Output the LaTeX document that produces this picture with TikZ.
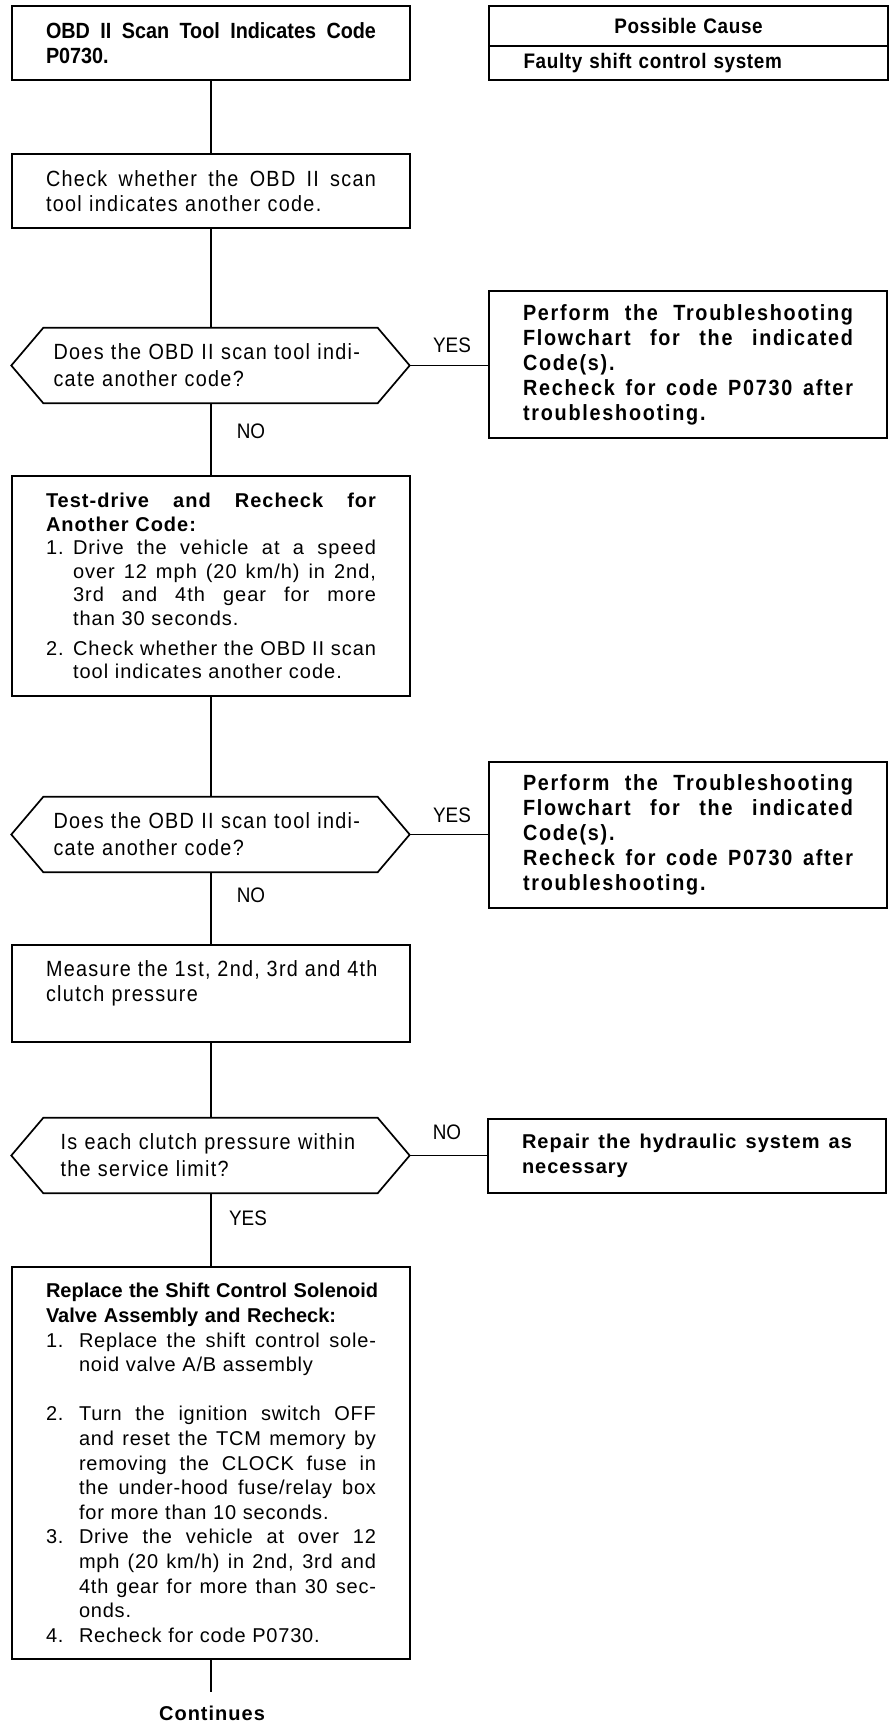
\documentclass[tikz,border=0pt]{standalone}
\usepackage{fontspec}
\setmainfont{Liberation Sans}
\newfontfamily\fA[FakeStretch=0.9]{Liberation Sans}
\newfontfamily\fAs[FakeStretch=0.9,LetterSpace=6]{Liberation Sans}
\newfontfamily\fAb[FakeStretch=0.9,LetterSpace=8]{Liberation Sans}
\newfontfamily\fPC[FakeStretch=0.9,LetterSpace=3]{Liberation Sans}
\newfontfamily\fB[LetterSpace=5]{Liberation Sans}
\newfontfamily\fBb[LetterSpace=4]{Liberation Sans}
\newfontfamily\fC{Liberation Sans}
\newlength\indw
\newlength\tw
\setlength\tw{330pt}
\newcommand\jsp{\spaceskip=\fontdimen2\font plus 1fil\relax}
\newcommand\myJ[1]{\noindent\hbox to \tw{\jsp #1}\par}
\newcommand\myL[1]{\noindent\hbox{#1}\par}
\newcommand\myI[2]{\noindent\hbox to \tw{\hbox to \indw{#1\hss}\jsp #2}\par}
\newcommand\myIL[2]{\noindent\hbox{\hbox to \indw{#1\hss}#2}\par}
\newcommand\myC[1]{\noindent\hbox to \tw{\hskip\indw\jsp #1}\par}
\newcommand\myCL[1]{\noindent\hbox{\hskip\indw #1}\par}
\tikzset{
  box/.style={draw, line width=2.1pt, inner sep=0pt, minimum width=398pt, text width=330pt, align=left},
  hexn/.style={inner sep=0pt, minimum width=398pt, minimum height=75pt, text width=314pt, align=left},
  hexline/.style={line width=1.7pt, line join=miter},
  conn/.style={line width=1.5pt},
  lab/.style={inner sep=0pt, font=\fA\fontsize{21}{24}\selectfont}
}
\begin{document}
\begin{tikzpicture}[x=1pt,y=-1pt]
\useasboundingbox (0,0) rectangle (896,1728);
\fill[white] (0,0) rectangle (896,1728);

% top row
\node[box, minimum height=74pt, font=\fA\fontsize{22}{24.5}\selectfont\bfseries] (b1) at (211,43)
  {\myJ{OBD II Scan Tool Indicates Code}\myL{P0730.}};
\node[box, minimum width=399pt, minimum height=40pt, align=center, font=\fPC\fontsize{21}{24}\selectfont\bfseries] (pc1) at (688.5,26) {Possible Cause};
\node[box, minimum width=399pt, minimum height=34pt, font=\fPC\fontsize{21}{24}\selectfont\bfseries] (pc2) at (688.5,63) {\myL{Faulty shift control system}};

\node[box, minimum height=74pt, font=\fAs\fontsize{22}{25.5}\selectfont] (b2) at (211,191)
  {\myJ{Check whether the OBD II scan}\myL{tool indicates another code.}};

% decision 1
\node[hexn, font=\fAs\fontsize{22}{27}\selectfont] (h1) at (210.5,365.5)
  {\myL{Does the OBD II scan tool indi-}\myL{cate another code?}};
\node[box, minimum height=147pt, font=\fAb\fontsize{22}{25}\selectfont\bfseries] (p1) at (688,364.5)
  {\myJ{Perform the Troubleshooting}\myJ{Flowchart for the indicated}\myL{Code(s).}\myJ{Recheck for code P0730 after}\myL{troubleshooting.}};
\node[lab] (yes1) at (452,345) {YES};
\node[lab] (no1) at (251,431) {NO};

% box 3
\node[box, minimum height=220pt, font=\fB\fontsize{20}{23.6}\selectfont] (b3) at (211,586)
  {\setlength\indw{27pt}%
   \myJ{\bfseries Test-drive and Recheck for}%
   \myL{\bfseries Another Code:}%
   \myI{1.}{Drive the vehicle at a speed}%
   \myC{over 12 mph (20 km/h) in 2nd,}%
   \myC{3rd and 4th gear for more}%
   \myCL{than 30 seconds.}%
   \vspace{6pt}%
   \myI{2.}{Check whether the OBD II scan}%
   \myCL{tool indicates another code.}};

% decision 2
\node[hexn, font=\fAs\fontsize{22}{27}\selectfont] (h2) at (210.5,834.5)
  {\myL{Does the OBD II scan tool indi-}\myL{cate another code?}};
\node[box, minimum height=146pt, font=\fAb\fontsize{22}{25}\selectfont\bfseries] (p2) at (688,835)
  {\myJ{Perform the Troubleshooting}\myJ{Flowchart for the indicated}\myL{Code(s).}\myJ{Recheck for code P0730 after}\myL{troubleshooting.}};
\node[lab] (yes2) at (452,815) {YES};
\node[lab] (no2) at (251,895) {NO};

% box 4
\node[box, minimum height=97pt, font=\fAs\fontsize{22}{25}\selectfont] (b4) at (211,993.5)
  {\myJ{Measure the 1st, 2nd, 3rd and 4th}\myL{clutch pressure}\myL{}};

% decision 3
\node[hexn, font=\fAs\fontsize{22}{27}\selectfont] (h3) at (210.5,1155.5)
  {\myL{\hspace*{7pt}Is each clutch pressure within}\myL{\hspace*{7pt}the service limit?}};
\node[box, minimum height=74pt, font=\fB\fontsize{20}{25}\selectfont\bfseries] (r1) at (687,1156)
  {\myJ{Repair the hydraulic system as}\myL{necessary}};
\node[lab] (no3) at (447,1132) {NO};
\node[lab] (yes3) at (248,1218) {YES};

% box 5
\node[box, minimum height=392pt, font=\fBb\fontsize{20}{24.6}\selectfont] (b5) at (211,1463)
  {\setlength\indw{33pt}%
   \myJ{\fC\bfseries Replace the Shift Control Solenoid}%
   \myL{\fC\bfseries Valve Assembly and Recheck:}%
   \myI{1.}{Replace the shift control sole-}%
   \myCL{noid valve A/B assembly}%
   \vspace{24.6pt}%
   \myI{2.}{Turn the ignition switch OFF}%
   \myC{and reset the TCM memory by}%
   \myC{removing the CLOCK fuse in}%
   \myC{the under-hood fuse/relay box}%
   \myCL{for more than 10 seconds.}%
   \myI{3.}{Drive the vehicle at over 12}%
   \myC{mph (20 km/h) in 2nd, 3rd and}%
   \myC{4th gear for more than 30 sec-}%
   \myCL{onds.}%
   \myIL{4.}{Recheck for code P0730.}};

\coordinate (endc) at (211,1692);
\node[inner sep=0pt, font=\fB\fontsize{20}{24}\selectfont\bfseries] (cont) at (212,1713) {Continues};

% hexagons
\foreach \h in {h1,h2,h3}{
  \draw[hexline] ([xshift=32pt]\h.north west) -- ([xshift=-32pt]\h.north east) -- (\h.east)
    -- ([xshift=-32pt]\h.south east) -- ([xshift=32pt]\h.south west) -- (\h.west) -- cycle;
}

% connectors
\draw[conn] (b1.south) -- (b2.north);
\draw[conn] (b2.south) -- (b2.south |- h1.north);
\draw[conn] (b2.south |- h1.south) -- (b3.north);
\draw[conn] (h1.east) -- (h1.east -| p1.west);
\draw[conn] (b3.south) -- (b3.south |- h2.north);
\draw[conn] (b3.south |- h2.south) -- (b4.north);
\draw[conn] (h2.east) -- (h2.east -| p2.west);
\draw[conn] (b4.south) -- (b4.south |- h3.north);
\draw[conn] (b4.south |- h3.south) -- (b5.north);
\draw[conn] (h3.east) -- (h3.east -| r1.west);
\draw[conn] (b5.south) -- (endc);
\end{tikzpicture}
\end{document}
